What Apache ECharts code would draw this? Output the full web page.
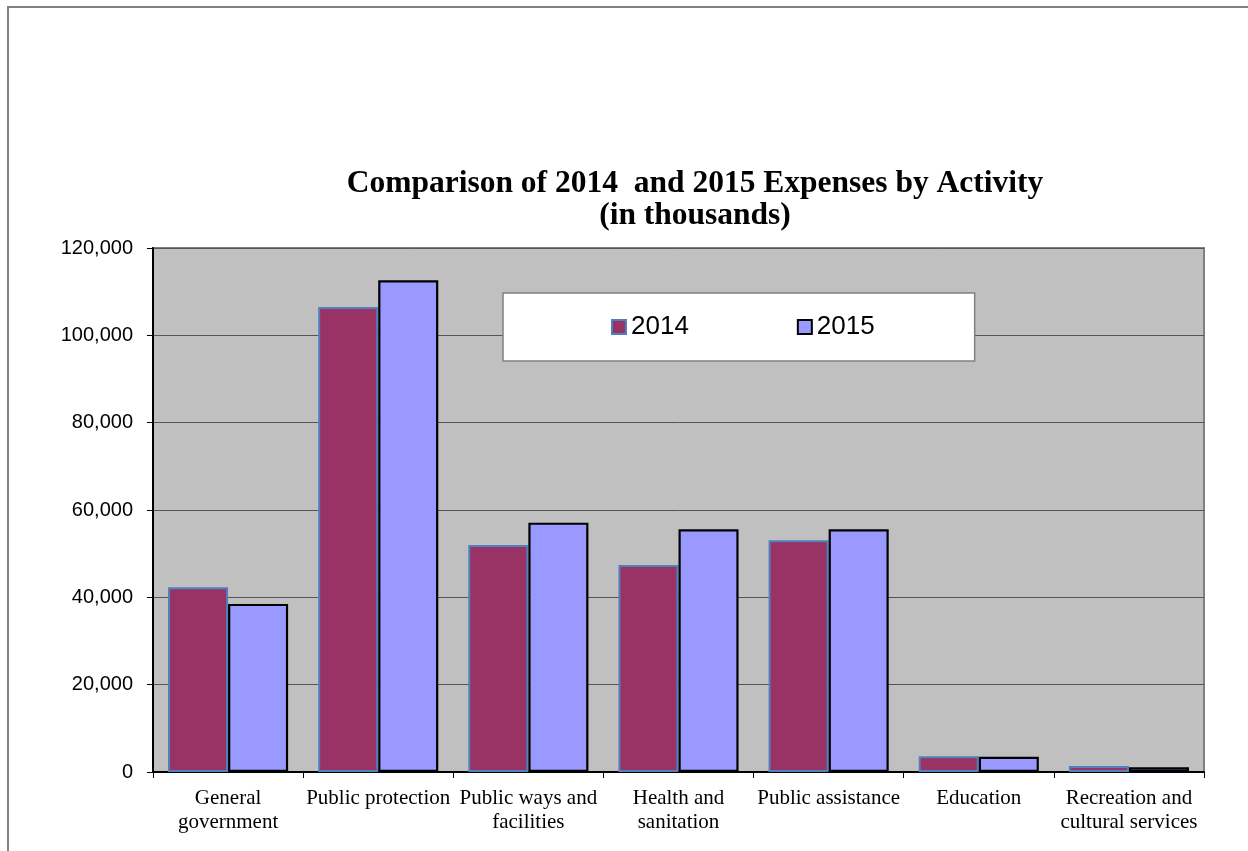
<!DOCTYPE html>
<html>
<head>
<meta charset="utf-8">
<script src="https://cdn.jsdelivr.net/npm/echarts@6/dist/echarts.min.js"></script>
<style>
html,body{margin:0;padding:0;background:#fff;}
#main{width:1248px;height:851px;}
</style>
</head>
<body>
<div id="main"></div>
<script>
const categories = ["General\ngovernment", "Public protection", "Public ways and\nfacilities", "Health and\nsanitation", "Public assistance", "Education", "Recreation and\ncultural services"];
const values2014 = [42300, 106500, 52000, 47400, 53100, 3600, 1400];
const values2015 = [38500, 112600, 57100, 55600, 55600, 3500, 1100];
const seriesNames = ["2014", "2015"];
const yMin = 0, yMax = 120000, yStep = 20000;

const chart = echarts.init(document.getElementById('main'), null, {renderer: 'canvas'});
const c2014 = {color: '#993366', borderColor: '#4F81BD', borderWidth: 2};
const c2015 = {color: '#9999FF', borderColor: '#000000', borderWidth: 2.2};

chart.setOption({
  animation: false,
  backgroundColor: '#ffffff',
  grid: {left: 153, right: 44, top: 248, bottom: 79, show: true, backgroundColor: '#C0C0C0', borderColor: '#808080', borderWidth: 2},
  graphic: [
    {type: 'line', shape: {x1: 7, y1: 7, x2: 1248, y2: 7}, style: {stroke: '#808080', lineWidth: 2}},
    {type: 'line', shape: {x1: 8, y1: 7, x2: 8, y2: 851}, style: {stroke: '#808080', lineWidth: 2}},
    {type: 'text', x: 695, y: 168, style: {text: 'Comparison of 2014  and 2015 Expenses by Activity\n(in thousands)', font: 'bold 31.5px "Liberation Serif", "Times New Roman", serif', fill: '#000', textAlign: 'center', textVerticalAlign: 'top', lineHeight: 32}}
  ],
  legend: {
    left: 503, top: 293,
    orient: 'horizontal',
    backgroundColor: '#ffffff', borderColor: '#808080', borderWidth: 1.5,
    padding: [21, 100, 21, 108],
    itemGap: 108, itemWidth: 14, itemHeight: 14,
    textStyle: {fontFamily: '"Liberation Sans", Arial, sans-serif', fontSize: 26, color: '#000'},
    data: [
      {name: seriesNames[0], icon: 'rect', itemStyle: {color: '#993366', borderColor: '#4F81BD', borderWidth: 2}},
      {name: seriesNames[1], icon: 'rect', itemStyle: {color: '#9999FF', borderColor: '#000', borderWidth: 2}}
    ]
  },
  xAxis: {
    type: 'category', data: categories,
    axisLine: {lineStyle: {color: '#000', width: 2}},
    axisTick: {show: true, length: 6, lineStyle: {color: '#000'}},
    axisLabel: {interval: 0, margin: 14, fontFamily: '"Liberation Serif", "Times New Roman", serif', fontSize: 21, lineHeight: 24, color: '#000'},
    splitLine: {show: false}
  },
  yAxis: {
    type: 'value', min: yMin, max: yMax, interval: yStep,
    axisLine: {show: true, lineStyle: {color: '#000', width: 2}},
    axisTick: {show: true, length: 6, lineStyle: {color: '#000'}},
    axisLabel: {margin: 20, fontFamily: '"Liberation Sans", Arial, sans-serif', fontSize: 20, color: '#000',
      formatter: v => v.toLocaleString('en-US')},
    splitLine: {show: true, lineStyle: {color: '#555555', width: 1}}
  },
  series: [
    {name: seriesNames[0], type: 'bar', data: values2014, barGap: '0%', barCategoryGap: '20%', itemStyle: c2014},
    {name: seriesNames[1], type: 'bar', data: values2015, barGap: '0%', barCategoryGap: '20%', itemStyle: c2015}
  ]
});
</script>
</body>
</html>
